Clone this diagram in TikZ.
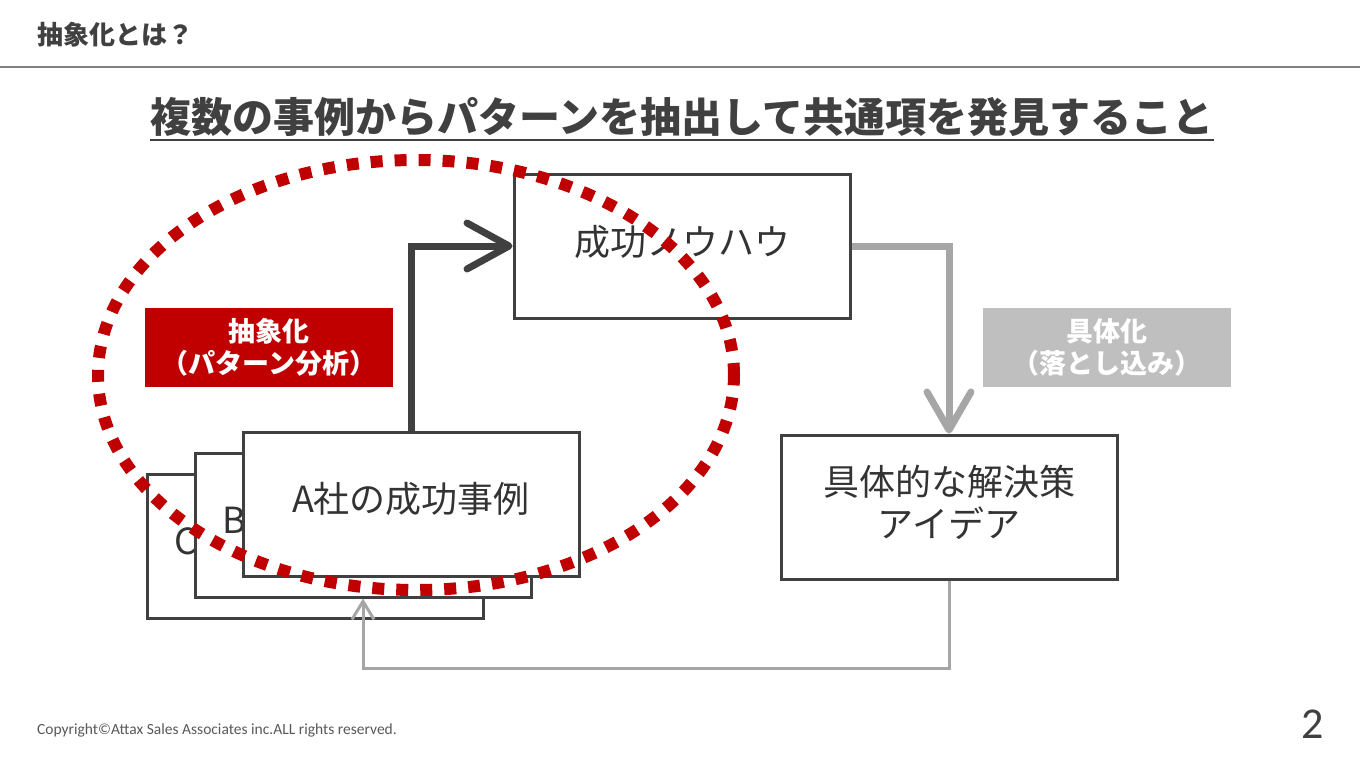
\documentclass[tikz,border=0pt]{standalone}
\usepackage{fontspec}
\setmainfont{Noto Sans CJK JP}
\newfontfamily\latinfont{Carlito}
\usetikzlibrary{arrows.meta}
\definecolor{dk}{HTML}{404040}
\definecolor{txt}{HTML}{333333}
\definecolor{rd}{HTML}{C00000}
\definecolor{gr}{HTML}{A6A6A6}
\definecolor{lbgr}{HTML}{BFBFBF}
\definecolor{hline}{HTML}{7F7F7F}
\definecolor{cpy}{HTML}{595959}
\tikzset{
  cbox/.style={draw=dk, line width=3pt, fill=white, minimum width=336pt, minimum height=144pt, inner sep=0pt},
  btext/.style={text=txt, font=\fontsize{36}{42}\selectfont, inner sep=0pt, align=center},
  lbl/.style={minimum width=248pt, minimum height=79pt, inner sep=0pt, text=white, align=center, font=\fontsize{27}{32}\selectfont\bfseries},
  darrow/.style={draw=dk, line width=7pt, -{Straight Barb[length=42pt,width=46pt,round]}},
  garrow/.style={draw=gr, line width=7pt, -{Straight Barb[length=38pt,width=44pt,round]}},
  rarrow/.style={draw=gr, line width=3pt, -{Straight Barb[length=18pt,width=22pt]}},
  dotell/.style={draw=rd, line width=12pt, dash pattern=on 12pt off 12pt}
}
\begin{document}
\begin{tikzpicture}[x=1pt,y=-1pt]
\useasboundingbox[fill=white] (0,0) rectangle (1360,766);
% header
\node[anchor=west, text=dk, font=\fontsize{26}{30}\selectfont\bfseries, inner sep=0pt] (hdr) at (37,35) {抽象化とは？};
\draw[hline, line width=2pt] (0,67) coordinate (hl) -- (1360,67) coordinate (hr);
% title
\node[text=dk, font=\fontsize{41}{46}\selectfont\bfseries, inner sep=0pt] (title) at (682,117) {複数の事例からパターンを抽出して共通項を発見すること};
\draw[dk, line width=2pt] ([yshift=-3pt]title.south west) -- ([yshift=-3pt]title.south east);
% boxes
\node[cbox] (know) at (682,246) {};
\node[btext] (knowt) at (682,242) {成功ノウハウ};
\node[cbox] (C) at (315,546) {};
\node[btext, anchor=west] (Ct) at (174,541) {C};
\node[cbox] (B) at (363,525) {};
\node[btext, anchor=west] (Bt) at (222,520) {B};
\node[cbox] (A) at (411,504) {};
\node[btext] (At) at (411,499) {A社の成功事例};
\node[cbox] (conc) at (949,507) {};
\node[btext] (conct) at (949,502) {具体的な解決策\\アイデア};
% labels
\node[lbl, fill=rd] (abs) at (269,347.5) {抽象化\\（パターン分析）};
\node[lbl, fill=lbgr] (con) at (1107,347.5) {具体化\\（落とし込み）};
% arrows
\draw[darrow] (A.north) |- (know.west);
\draw[garrow] (know.east) -| (conc.north);
\draw[rarrow] (conc.south) -- ++(0,88) -| (B.south);
% ellipse
\draw[dotell] (416,375) ellipse [x radius=318pt, y radius=215pt];
% footer
\node[anchor=west, text=cpy, font=\latinfont\fontsize{15.5}{18}\selectfont, inner sep=0pt] (copy) at (37,730) {Copyright©Attax Sales Associates inc.ALL rights reserved.};
\node[anchor=east, text=dk, font=\latinfont\fontsize{44}{48}\selectfont, inner sep=0pt] (pg) at (1324,724) {2};
\end{tikzpicture}
\end{document}
